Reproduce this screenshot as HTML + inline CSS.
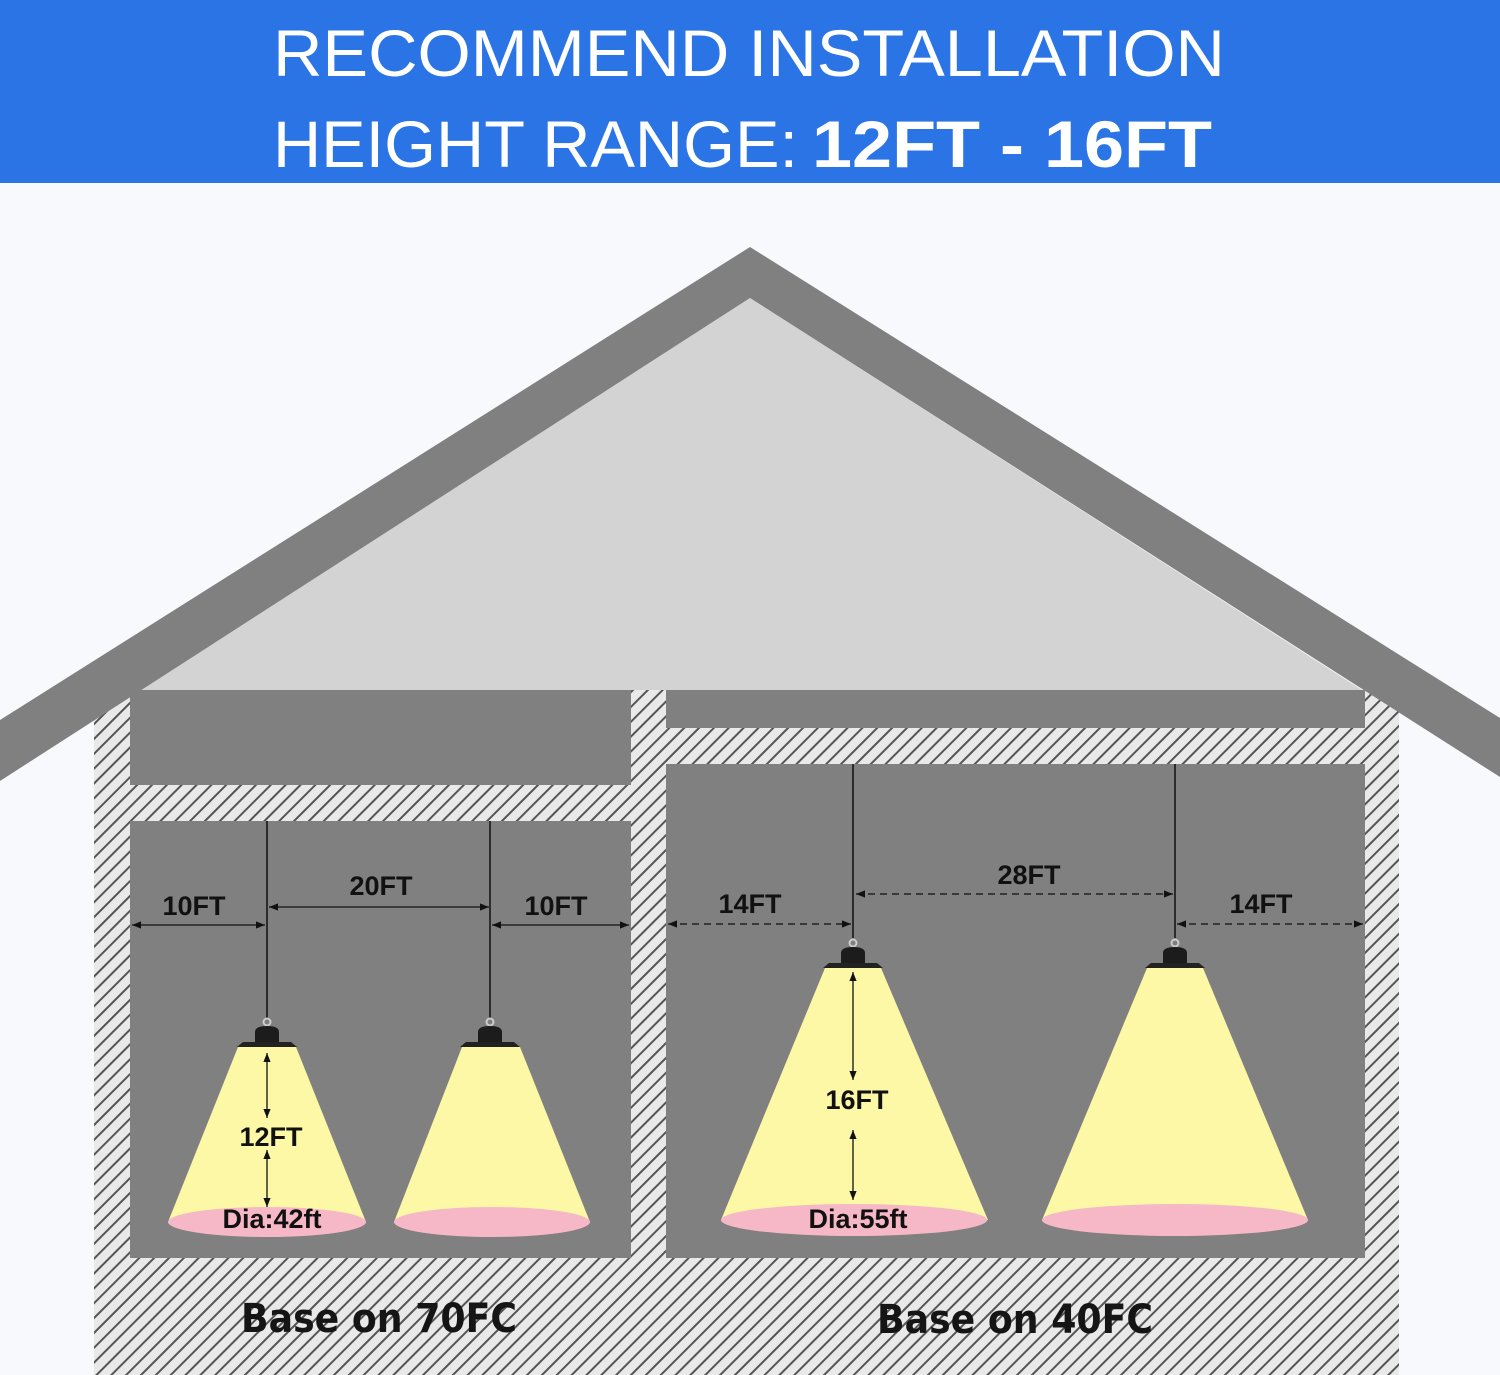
<!DOCTYPE html>
<html><head><meta charset="utf-8"><style>html,body{margin:0;padding:0;background:#f7f9fc}svg{display:block}</style></head>
<body>
<svg width="1500" height="1375" viewBox="0 0 1500 1375" xmlns="http://www.w3.org/2000/svg">
<defs>
<pattern id="h" patternUnits="userSpaceOnUse" width="10.5" height="10.5" patternTransform="rotate(45)">
<rect width="10.5" height="10.5" fill="#e9e9e9"/>
<rect x="0" y="0" width="2" height="10.5" fill="#555"/>
</pattern>
<marker id="a" viewBox="0 0 10 10" refX="10" refY="5" markerWidth="7" markerHeight="7" orient="auto-start-reverse"><path d="M0,1 L10,5 L0,9 z" fill="#111"/></marker>
<g id="lamp">
<circle cx="0" cy="0" r="3.5" fill="none" stroke="#ccc" stroke-width="2"/>
<path d="M-12,20 L-12,10 Q-12,4 0,4 Q12,4 12,10 L12,20 Z" fill="#1c1c1c"/>
<path d="M-30,25 L-24,20 L24,20 L30,25 Z" fill="#222"/>
</g>
</defs>
<rect x="0" y="0" width="1500" height="183" fill="#2b74e6"/>
<g fill="#fff" font-family="Liberation Sans, sans-serif" font-size="66">
<text x="273" y="76" textLength="952" lengthAdjust="spacingAndGlyphs">RECOMMEND INSTALLATION</text>
<text x="273" y="167" textLength="525" lengthAdjust="spacingAndGlyphs">HEIGHT RANGE:</text>
<text x="812" y="167" font-weight="bold" textLength="400" lengthAdjust="spacingAndGlyphs">12FT - 16FT</text>
</g>
<polygon points="750,298 1362,690 140,690" fill="#d3d3d3"/>
<rect x="94" y="690" width="1305" height="685" fill="url(#h)"/>
<g fill="#808080">
<rect x="130" y="690" width="501" height="95"/>
<rect x="130" y="821" width="501" height="437"/>
<rect x="666" y="690" width="699" height="38"/>
<rect x="666" y="764" width="699" height="494"/>
</g>
<polygon points="0,720 750,247 1500,718 1500,777 750,298 0,781" fill="#808080"/>
<g stroke="#111" stroke-width="1.5">
<line x1="267" y1="821" x2="267" y2="1018"/>
<line x1="490" y1="821" x2="490" y2="1018"/>
<line x1="853" y1="764" x2="853" y2="938"/>
<line x1="1175" y1="764" x2="1175" y2="938"/>
</g>
<g fill="#fdf8a6">
<polygon points="238,1047 296,1047 366,1222 168,1222"/>
<polygon points="462,1047 520,1047 590,1222 394,1222"/>
<polygon points="825,968 881,968 988,1220 721,1220"/>
<polygon points="1147,968 1203,968 1308,1220 1042,1220"/>
</g>
<g fill="#f6b8c6">
<ellipse cx="267" cy="1222" rx="99" ry="15"/>
<ellipse cx="492" cy="1222" rx="98" ry="15"/>
<ellipse cx="854" cy="1220" rx="133" ry="16"/>
<ellipse cx="1175" cy="1220" rx="133" ry="16"/>
</g>
<use href="#lamp" x="267" y="1022"/>
<use href="#lamp" x="490" y="1022"/>
<use href="#lamp" x="853" y="943"/>
<use href="#lamp" x="1175" y="943"/>
<g stroke="#111" stroke-width="1.3" fill="none" marker-start="url(#a)" marker-end="url(#a)">
<line x1="132" y1="925" x2="265" y2="925"/>
<line x1="269" y1="907" x2="489" y2="907"/>
<line x1="492" y1="925" x2="629" y2="925"/>
<line x1="668" y1="924" x2="851" y2="924" stroke-dasharray="7,5"/>
<line x1="856" y1="894" x2="1173" y2="894" stroke-dasharray="7,5"/>
<line x1="1177" y1="924" x2="1363" y2="924" stroke-dasharray="7,5"/>
<line x1="267" y1="1053" x2="267" y2="1118"/>
<line x1="267" y1="1150" x2="267" y2="1207"/>
<line x1="853" y1="972" x2="853" y2="1080"/>
<line x1="853" y1="1130" x2="853" y2="1200"/>
</g>
<g fill="#111" font-family="Liberation Sans, sans-serif" font-size="27" font-weight="bold" text-anchor="middle">
<text x="194" y="915">10FT</text>
<text x="381" y="895">20FT</text>
<text x="556" y="915">10FT</text>
<text x="750" y="913">14FT</text>
<text x="1029" y="884">28FT</text>
<text x="1261" y="913">14FT</text>
<text x="271" y="1146">12FT</text>
<text x="857" y="1109">16FT</text>
<text x="272" y="1228">Dia:42ft</text>
<text x="858" y="1228">Dia:55ft</text>
</g>
<g fill="#151515" font-family="DejaVu Sans, Liberation Sans, sans-serif" font-weight="bold" font-size="40" text-anchor="middle">
<text x="379" y="1332" textLength="276" lengthAdjust="spacingAndGlyphs">Base on 70FC</text>
<text x="1015" y="1333" textLength="276" lengthAdjust="spacingAndGlyphs">Base on 40FC</text>
</g>
</svg>
</body></html>
